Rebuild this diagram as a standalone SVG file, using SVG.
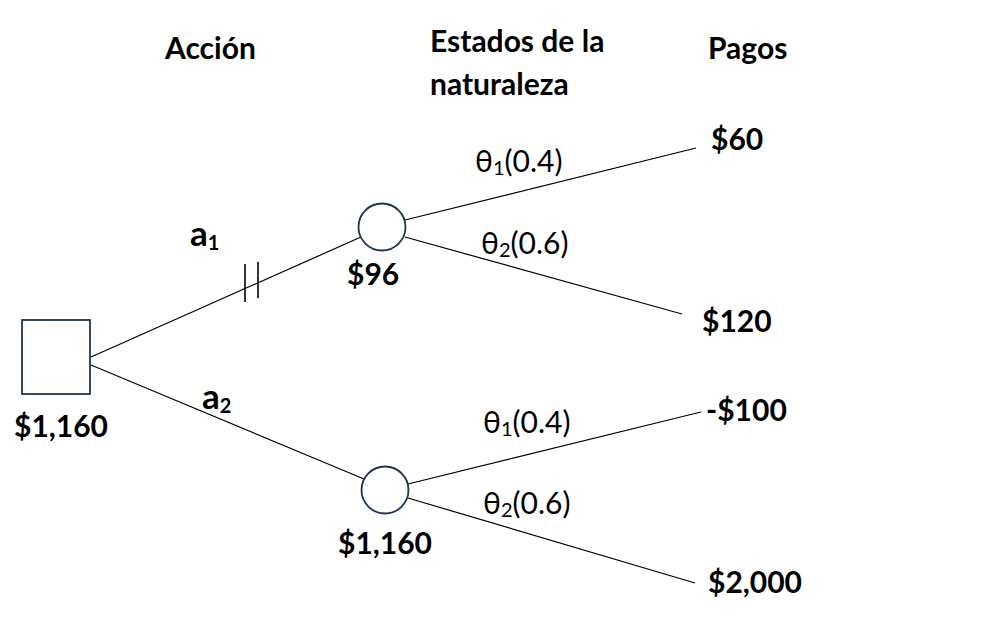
<svg xmlns="http://www.w3.org/2000/svg" width="991" height="622" viewBox="0 0 991 622">
<style>
.b{font-family:Lato,"Noto Sans",sans-serif;font-weight:bold;font-size:30px;fill:#000}
.a{font-size:35px}
.r{font-family:Lato,"Noto Sans",sans-serif;font-size:30px;fill:#000}
.s{font-size:20px}
.ln{stroke:#000;stroke-width:1.2;fill:none}
.tk{stroke:#000;stroke-width:1.6;fill:none}
.nd{stroke:#1f3354;stroke-width:1.8;fill:#fff}
</style>
<rect width="991" height="622" fill="#fff"/>
<g id="headers">
<text class="b" x="165" y="59">Acción</text>
<text class="b" x="430" y="52">Estados de la</text>
<text class="b" x="430" y="95">naturaleza</text>
<text class="b" x="708" y="59">Pagos</text>
</g>
<g id="connectors">
<line class="ln" x1="91" y1="357" x2="361" y2="237"/>
<line class="ln" x1="91" y1="365" x2="364" y2="479"/>
<line class="tk" x1="245" y1="264" x2="245" y2="302"/>
<line class="tk" x1="258" y1="262" x2="258" y2="298"/>
<line class="ln" x1="405" y1="220" x2="696" y2="148"/>
<line class="ln" x1="405" y1="237" x2="682" y2="314"/>
<line class="ln" x1="408" y1="484" x2="701" y2="412"/>
<line class="ln" x1="408" y1="498" x2="695" y2="583"/>
<text class="b a" x="190" y="246">a<tspan class="s" dy="4">1</tspan></text>
<text class="b a" x="202" y="409">a<tspan class="s" dy="4">2</tspan></text>
<text class="r" x="475" y="172">θ<tspan class="s" dy="3">1</tspan><tspan dy="-3">(0.4)</tspan></text>
<text class="r" x="481" y="254">θ<tspan class="s" dy="3">2</tspan><tspan dy="-3">(0.6)</tspan></text>
<text class="r" x="483" y="433">θ<tspan class="s" dy="3">1</tspan><tspan dy="-3">(0.4)</tspan></text>
<text class="r" x="483" y="514">θ<tspan class="s" dy="3">2</tspan><tspan dy="-3">(0.6)</tspan></text>
</g>
<g id="decision">
<rect class="nd" x="22" y="320" width="68" height="74"/>
<text class="b" x="14" y="437">$1,160</text>
</g>
<g id="chance1">
<circle class="nd" cx="382" cy="227" r="23.5"/>
<text class="b" x="347" y="285">$96</text>
</g>
<g id="chance2">
<circle class="nd" cx="385" cy="490" r="23.5"/>
<text class="b" x="338" y="554">$1,160</text>
</g>
<g id="payoffs">
<text class="b" x="711" y="150">$60</text>
<text class="b" x="702" y="332">$120</text>
<text class="b" x="706" y="421">-$100</text>
<text class="b" x="708" y="593">$2,000</text>
</g>
</svg>
